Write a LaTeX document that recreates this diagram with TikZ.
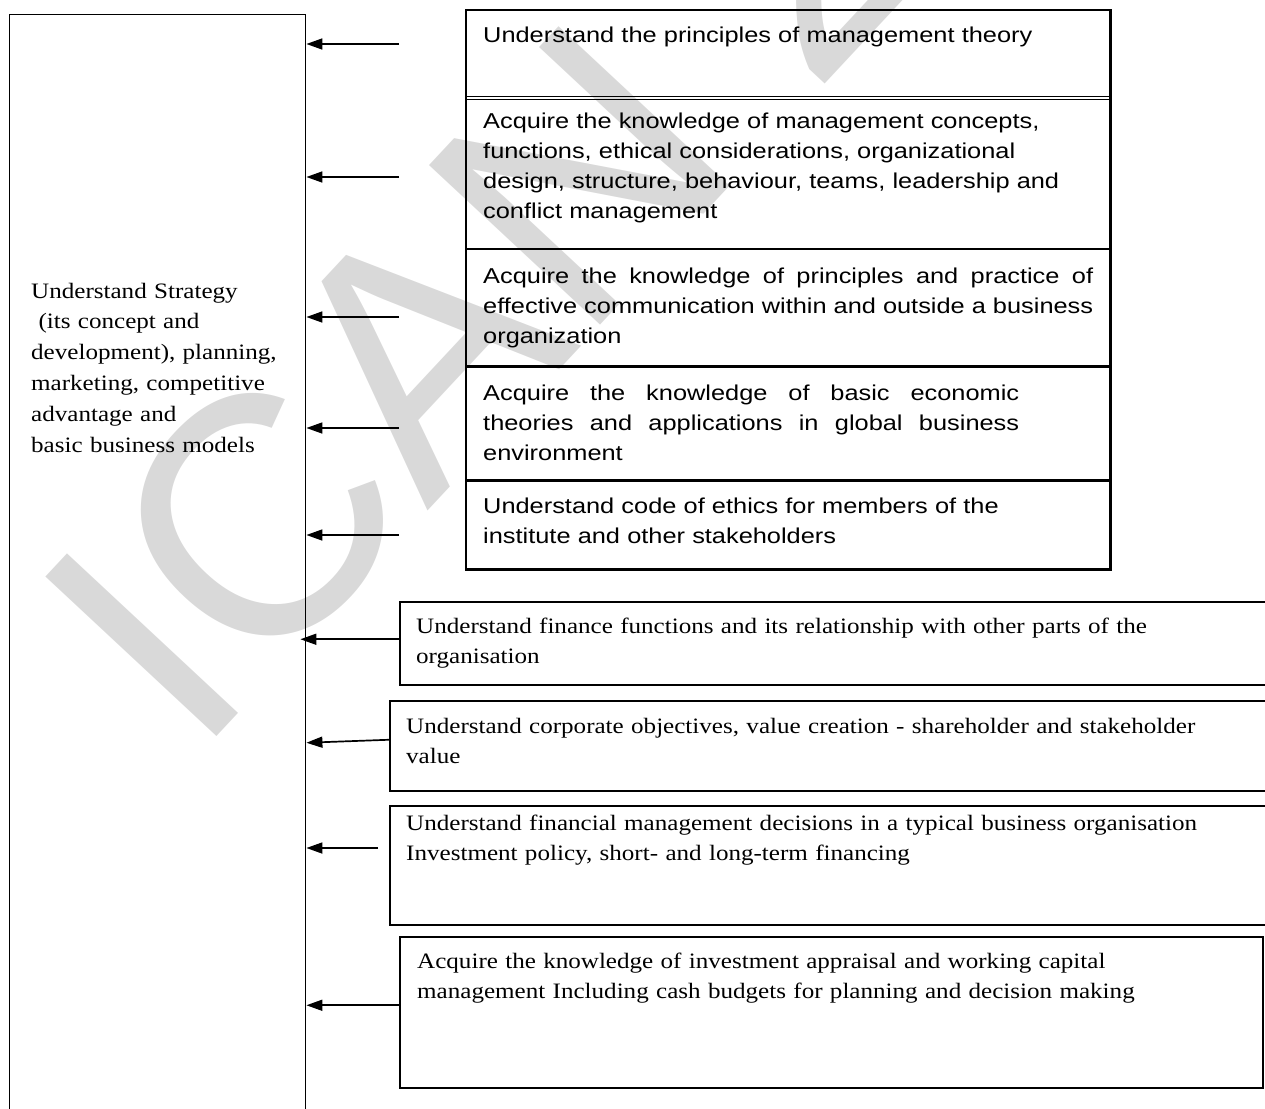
\documentclass[tikz,border=0pt]{standalone}
\usepackage{fontspec}
\setmainfont{Liberation Serif}[FakeStretch=1.14]
\newfontfamily\arialfont{Liberation Sans}[FakeStretch=1.18]
\newfontfamily\markfont{Liberation Sans}
\usetikzlibrary{arrows.meta, calc}

\tikzset{
  sanstext/.style={font=\arialfont\fontsize{21.5}{30}\selectfont, anchor=base west, inner sep=0pt, align=left, text width=#1},
  seriftext/.style={font=\fontsize{22}{30}\selectfont, anchor=base west, inner sep=0pt, align=left, text width=#1},
  stackrow/.style={anchor=north west, minimum width=644pt, inner sep=0pt},
  goalbox/.style={draw, line width=1.5pt, anchor=north west, inner sep=0pt},
  stackline/.style={line width=2.2pt},
  thinline/.style={line width=0.9pt},
  feedarrow/.style={line width=1.7pt, -{Triangle[length=16pt, width=11pt]}},
  wmark/.style={font=\markfont\fontsize{340}{340}\selectfont, text=black!15, inner sep=0pt},
}

\begin{document}
\begin{tikzpicture}[x=1pt, y=-1pt]
    \useasboundingbox (0,0) rectangle (1265,1108);
    \clip (0,0) rectangle (1265,1108);

    % watermark
    \node[wmark, rotate=47, anchor=base west] (wm) at (195,760) {ICAN 2};

    % strategy box (runs off the page)
    \node[draw, line width=1.4pt, anchor=north west, minimum width=296.5pt, minimum height=1120pt, inner sep=0pt] (strat) at (8.5,14) {};
    \node[seriftext=270pt, font=\fontsize{22}{30.8}\selectfont] (strattxt) at (31,298)
        {Understand Strategy\\~(its concept and\\development), planning,\\marketing, competitive\\advantage and\\basic business models};

    % stacked table
    \node[stackrow, minimum height=86pt]  (r1) at (466,10)  {};
    \node[stackrow, minimum height=149.5pt] (r2) at (466,99) {};
    \node[stackrow, minimum height=117.5pt] (r3) at (466,248.5) {};
    \node[stackrow, minimum height=114pt] (r4) at (466,366) {};
    \node[stackrow, minimum height=89pt]  (r5) at (466,480) {};
    \draw[stackline] (r1.north west) rectangle (r5.south east);
    \draw[stackline] (r2.south west) -- (r2.south east);
    \draw[stackline] (r3.south west) -- (r3.south east);
    \draw[stackline] (r4.south west) -- (r4.south east);
    \draw[thinline] (r1.south west) -- (r1.south east);
    \draw[thinline] (r2.north west) -- (r2.north east);

    \node[sanstext=620pt] (t1) at (483,43) {Understand the principles of management theory};
    \node[sanstext=620pt] (t2) at (483,128)
        {Acquire the knowledge of management concepts,\\functions, ethical considerations, organizational\\design, structure, behaviour, teams, leadership and\\conflict management};
    \node[sanstext=610pt, align=justify] (t3) at (483,283)
        {Acquire the knowledge of principles and practice of\linebreak effective communication within and outside a business\linebreak organization};
    \node[sanstext=536pt, align=justify] (t4) at (483,400)
        {Acquire the knowledge of basic economic\linebreak theories and applications in global business\linebreak environment};
    \node[sanstext=620pt] (t5) at (483,513)
        {Understand code of ethics for members of the\\institute and other stakeholders};

    % lower boxes
    \node[goalbox, minimum width=881pt, minimum height=83pt]  (fin) at (399,601) {};
    \node[goalbox, minimum width=891pt, minimum height=90pt]  (corp) at (389,700) {};
    \node[goalbox, minimum width=891pt, minimum height=119pt] (dec) at (389,805) {};
    \node[goalbox, minimum width=863pt, minimum height=151pt] (inv) at (399,936) {};

    \node[seriftext=850pt] (fintxt) at (416,633)
        {Understand finance functions and its relationship with other parts of the\\organisation};
    \node[seriftext=850pt] (corptxt) at (406,733)
        {Understand corporate objectives, value creation - shareholder and stakeholder\\value};
    \node[seriftext=850pt] (dectxt) at (406,830)
        {Understand financial management decisions in a typical business organisation\\Investment policy, short- and long-term financing};
    \node[seriftext=840pt] (invtxt) at (417,968)
        {Acquire the knowledge of investment appraisal and working capital\\management Including cash budgets for planning and decision making};

    % arrows
    \coordinate (m1) at (399,44);
    \coordinate (m2) at (399,177);
    \coordinate (m3) at (399,317);
    \coordinate (m4) at (399,428);
    \coordinate (m5) at (399,535);
    \coordinate (m8) at (378,848);
    \foreach \m in {m1,m2,m3,m4,m5,m8}
        \draw[feedarrow] (\m) -- (\m -| strat.east);

    \draw[feedarrow] ([yshift=4pt]fin.west) -- ([xshift=-6pt, yshift=4pt]fin.west -| strat.east);
    \draw[feedarrow] ([yshift=6pt]corp.west) -- ([yshift=3pt]corp.west -| strat.east);
    \draw[feedarrow] ([yshift=7pt]inv.west) -- ([yshift=7pt]inv.west -| strat.east);
\end{tikzpicture}
\end{document}
